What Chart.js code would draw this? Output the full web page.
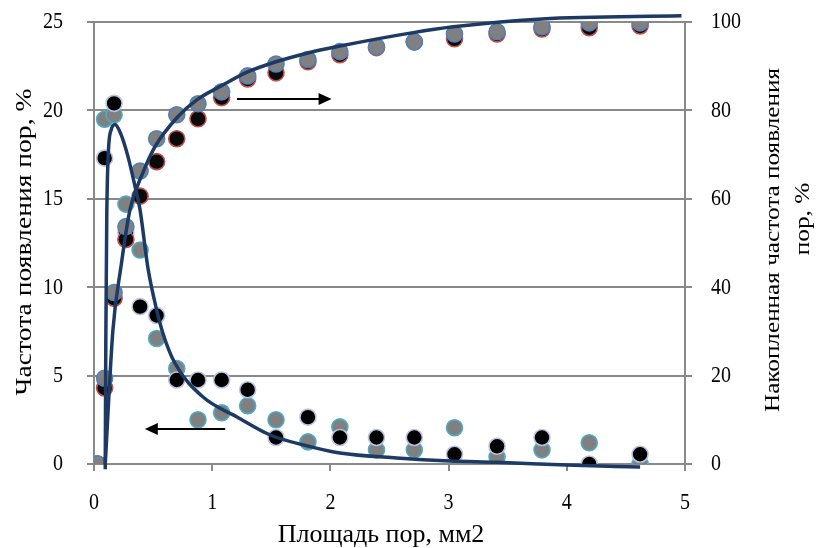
<!DOCTYPE html>
<html>
<head>
<meta charset="utf-8">
<script src="https://cdn.jsdelivr.net/npm/chart.js@4"></script>
<style>
  html, body { margin: 0; padding: 0; background: #fff; }
  #wrap { width: 817px; height: 548px; }
</style>
</head>
<body>
<div id="wrap"><canvas id="chart" width="817" height="548"></canvas></div>
<script>
// площадь пор, мм2
const poreArea = [0.03, 0.09, 0.17, 0.27, 0.39, 0.53, 0.70, 0.88, 1.08, 1.30, 1.54, 1.81, 2.08, 2.39, 2.71, 3.05, 3.41, 3.79, 4.19, 4.62];

// частота появления пор, % (левая ось)
const freqBlack = [0, 17.3, 20.4, 13.1, 8.9, 8.4, 4.75, 4.75, 4.75, 4.2, 1.5, 2.65, 1.5, 1.5, 1.5, 0.55, 1.0, 1.5, 0, 0.55];
const freqGray = [0, 19.5, 19.75, 14.7, 12.1, 7.1, 5.4, 2.5, 2.9, 3.3, 2.5, 1.25, 2.1, 0.8, 0.8, 2.05, 0.4, 0.8, 1.2, 0];

// накопленная частота, % (правая ось)
const cumBlack = [0, 17.2, 37.5, 50.8, 60.6, 68.4, 73.6, 78.1, 82.9, 87.1, 88.5, 91.0, 92.6, 94.2, 95.5, 96.2, 97.3, 98.4, 98.7, 99.1];
const cumGray = [0, 19.4, 38.8, 53.7, 66.3, 73.6, 79.0, 81.5, 84.2, 87.8, 90.5, 91.5, 93.3, 94.4, 95.5, 97.3, 97.8, 98.9, 99.8, 99.8];

// линии аппроксимации
const freqFitX = [0.095, 0.100, 0.108, 0.120, 0.145, 0.178, 0.225, 0.287, 0.347, 0.389, 0.456, 0.52, 0.583, 0.685, 0.92, 1.21, 1.49, 1.77, 2.08, 2.56, 3.01, 3.41, 4.0, 4.62];
const freqFitY = [-0.3, 7.0, 14.0, 17.4, 18.9, 19.2, 18.7, 17.4, 15.7, 14.4, 11.1, 9.0, 7.4, 5.7, 3.8, 2.66, 1.64, 1.08, 0.62, 0.34, 0.17, 0.1, -0.06, -0.17];
const cumFitX = [0.095, 0.16, 0.228, 0.304, 0.414, 0.516, 0.71, 0.87, 1.08, 1.30, 1.54, 1.81, 2.05, 2.70, 3.04, 3.79, 4.97];
const cumFitY = [0, 30.3, 44.6, 57.5, 65.9, 71.8, 78.6, 82.4, 85.6, 88.7, 91.0, 93.0, 94.4, 97.6, 98.9, 100.7, 101.4];

const xTicks = [0, 1, 2, 3, 4, 5];
const yTicks = [0, 5, 10, 15, 20, 25];
const y2Ticks = [0, 20, 40, 60, 80, 100];

// стрелки-указатели (в единицах осей x / левой y)
const arrows = [
  { from: 1.21, to: 2.01, y: 20.65 },
  { from: 1.11, to: 0.43, y: 1.98 }
];

const toPoints = (xs, ys) => xs.map((x, i) => ({ x, y: ys[i] }));

const FONT = '"Liberation Serif", "Times New Roman", serif';
const GRID = '#898989';

function drawText(ctx, text, x, y, rot, size, stretch, align) {
  ctx.save();
  ctx.translate(x, y);
  ctx.rotate(rot);
  if (rot === 0) ctx.scale(1, stretch); else ctx.scale(stretch, 1);
  ctx.font = size + 'px ' + FONT;
  ctx.fillStyle = '#000';
  ctx.textAlign = align || 'center';
  ctx.textBaseline = 'middle';
  ctx.fillText(text, 0, 0);
  ctx.restore();
}

const textPlugin = {
  id: 'texts',
  afterDraw(chart) {
    const ctx = chart.ctx;
    const { x, y, y2 } = chart.scales;

    yTicks.forEach(v => drawText(ctx, String(v), 63, y.getPixelForValue(v), 0, 20, 1.2, 'right'));
    y2Ticks.forEach(v => drawText(ctx, String(v), 711, y2.getPixelForValue(v), 0, 20, 1.2, 'left'));
    xTicks.forEach(v => drawText(ctx, String(v), x.getPixelForValue(v), 503, 0, 20, 1.2));

    drawText(ctx, 'Площадь пор, мм2', 381, 535, 0, 26, 1.0);
    drawText(ctx, 'Частота появления пор, %', 25, 242, -Math.PI / 2, 23, 1.2);
    drawText(ctx, 'Накопленная частота появления', 773, 240, -Math.PI / 2, 21, 1.2);
    drawText(ctx, 'пор, %', 803, 219, -Math.PI / 2, 21, 1.2);

    // стрелки
    ctx.save();
    ctx.strokeStyle = '#000';
    ctx.fillStyle = '#000';
    ctx.lineWidth = 2;
    arrows.forEach(a => {
      const x1 = x.getPixelForValue(a.from);
      const x2 = x.getPixelForValue(a.to);
      const py = y.getPixelForValue(a.y);
      const dir = Math.sign(x2 - x1);
      ctx.beginPath();
      ctx.moveTo(x1, py);
      ctx.lineTo(x2 - dir * 10, py);
      ctx.stroke();
      ctx.beginPath();
      ctx.moveTo(x2, py);
      ctx.lineTo(x2 - dir * 13, py - 6);
      ctx.lineTo(x2 - dir * 13, py + 6);
      ctx.closePath();
      ctx.fill();
    });
    ctx.restore();
  }
};

const pointSet = (label, data, fill, border, axis, order) => ({
  type: 'scatter',
  label,
  data,
  yAxisID: axis,
  backgroundColor: fill,
  borderColor: border,
  pointRadius: 8,
  pointBorderWidth: 1.6,
  order
});

new Chart(document.getElementById('chart'), {
  type: 'scatter',
  data: {
    datasets: [
      {
        type: 'line',
        label: 'Частота (аппроксимация)',
        data: toPoints(freqFitX, freqFitY),
        yAxisID: 'y',
        borderColor: '#1c3a64',
        borderWidth: 3.5,
        pointRadius: 0,
        cubicInterpolationMode: 'monotone',
        fill: false,
        clip: false,
        order: 0
      },
      {
        type: 'line',
        label: 'Накопленная частота (аппроксимация)',
        data: toPoints(cumFitX, cumFitY),
        yAxisID: 'y2',
        borderColor: '#1c3a64',
        borderWidth: 3.5,
        pointRadius: 0,
        cubicInterpolationMode: 'monotone',
        fill: false,
        clip: false,
        order: 1
      },
      pointSet('Накопленная 2', toPoints(poreArea, cumGray), '#808080', '#4f81bd', 'y2', 2),
      pointSet('Накопленная 1', toPoints(poreArea, cumBlack), '#0a0a0a', '#c0504d', 'y2', 3),
      pointSet('Частота 1', toPoints(poreArea, freqBlack), '#000000', '#bcc2e2', 'y', 4),
      pointSet('Частота 2', toPoints(poreArea, freqGray), '#808080', '#4bacc6', 'y', 5)
    ]
  },
  options: {
    responsive: false,
    animation: false,
    layout: { padding: { top: 22, left: 0, right: 0, bottom: 0 } },
    plugins: {
      legend: { display: false },
      tooltip: { enabled: false }
    },
    scales: {
      x: {
        type: 'linear',
        min: 0,
        max: 5,
        ticks: { display: false, stepSize: 1 },
        grid: { drawOnChartArea: false, drawTicks: true, tickLength: 7, color: GRID, lineWidth: 2 },
        border: { color: GRID, width: 2 },
        afterFit: s => { s.height = 84; }
      },
      y: {
        position: 'left',
        min: 0,
        max: 25,
        ticks: { display: false, stepSize: 5 },
        grid: { color: GRID, lineWidth: 2, tickLength: 7 },
        border: { color: GRID, width: 2 },
        afterFit: s => { s.width = 94; }
      },
      y2: {
        position: 'right',
        min: 0,
        max: 100,
        ticks: { display: false, stepSize: 20 },
        grid: { drawOnChartArea: false, color: GRID, lineWidth: 2, tickLength: 7 },
        border: { color: GRID, width: 2 },
        afterFit: s => { s.width = 132; }
      }
    }
  },
  plugins: [textPlugin]
});
</script>
</body>
</html>
